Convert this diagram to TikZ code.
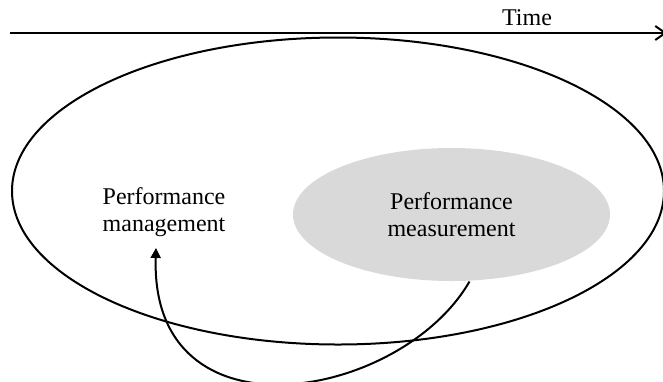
\documentclass[tikz,border=0pt]{standalone}
\usepackage{fontspec}
\setmainfont{Liberation Serif}
\usetikzlibrary{shapes.geometric,arrows.meta}
\tikzset{
  field/.style={ellipse,inner sep=0pt},
  lbl/.style={align=center,font=\fontsize{12}{13.5}\selectfont},
}
\begin{document}
\begin{tikzpicture}[x=0.5pt,y=-0.5pt,line width=1pt]
  \useasboundingbox (0,0) rectangle (663,381);
  % time axis
  \coordinate (t0) at (10,33);
  \coordinate (t1) at (667,33);
  \draw[-{Straight Barb[length=5pt,width=7pt]}] (t0) -- (t1);
  \node[lbl] (time) at (527,18) {Time};
  % the two fields
  \node[field,fill=black!15,minimum width=158.5pt,minimum height=66.5pt,lbl] (pms) at (451.5,214.5) {Performance\\measurement};
  \node[field,draw,minimum width=326pt,minimum height=153.5pt] (pmg) at (338,191) {};
  \node[lbl] (pmgtext) at (164,212) {Performance\\management};
  % feedback
  \coordinate (tip) at (156,248);
  \draw[-{Triangle[length=5pt,width=5pt]}] (pms.-75) .. controls +(-69,119) and +(-6,197) .. (tip);
\end{tikzpicture}
\end{document}
